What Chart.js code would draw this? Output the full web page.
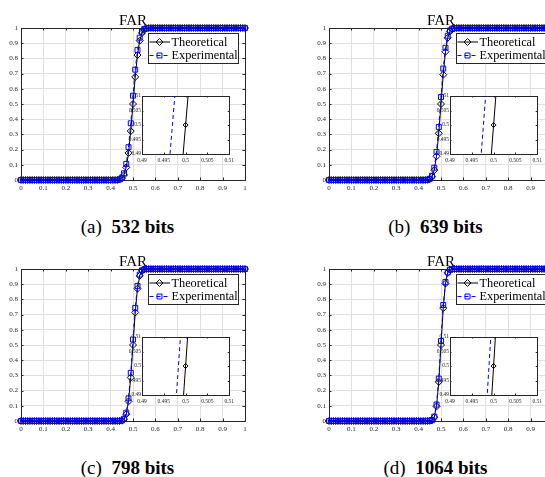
<!DOCTYPE html>
<html>
<head>
<meta charset="utf-8">
<script src="https://cdn.jsdelivr.net/npm/chart.js@4.4.1/dist/chart.umd.min.js"></script>
<style>
  html, body { margin: 0; padding: 0; background: #fff; width: 545px; height: 477px; overflow: hidden; position: relative; }
  canvas { position: absolute; }
  .cap { position: absolute; width: 255px; text-align: center; font-family: "Liberation Serif", "Times New Roman", serif;
         font-size: 19px; line-height: 22px; color: #000; white-space: pre; }
</style>
</head>
<body>
<script>
// FAR curves: theoretical vs experimental, four key lengths
const SERIF = '"Liberation Serif", "Times New Roman", serif';
const AXIS = "#262626";
const GRID = "#e0e0e0";

const xs = [
  0, 0.01, 0.02, 0.03, 0.04, 0.05, 0.06, 0.07, 0.08, 0.09,
  0.1, 0.11, 0.12, 0.13, 0.14, 0.15, 0.16, 0.17, 0.18, 0.19,
  0.2, 0.21, 0.22, 0.23, 0.24, 0.25, 0.26, 0.27, 0.28, 0.29,
  0.3, 0.31, 0.32, 0.33, 0.34, 0.35, 0.36, 0.37, 0.38, 0.39,
  0.4, 0.41, 0.42, 0.43, 0.44, 0.45, 0.46, 0.47, 0.48, 0.49,
  0.5, 0.51, 0.52, 0.53, 0.54, 0.55, 0.56, 0.57, 0.58, 0.59,
  0.6, 0.61, 0.62, 0.63, 0.64, 0.65, 0.66, 0.67, 0.68, 0.69,
  0.7, 0.71, 0.72, 0.73, 0.74, 0.75, 0.76, 0.77, 0.78, 0.79,
  0.8, 0.81, 0.82, 0.83, 0.84, 0.85, 0.86, 0.87, 0.88, 0.89,
  0.9, 0.91, 0.92, 0.93, 0.94, 0.95, 0.96, 0.97, 0.98, 0.99,
  1
];

const mainTicks = [0, 0.1, 0.2, 0.3, 0.4, 0.5, 0.6, 0.7, 0.8, 0.9, 1];
const mainTickLabels = ["0", "0.1", "0.2", "0.3", "0.4", "0.5", "0.6", "0.7", "0.8", "0.9", "1"];
const insetTicks = [0.49, 0.495, 0.5, 0.505, 0.51];
const insetTickLabels = ["0.49", "0.495", "0.5", "0.505", "0.51"];

const titleText = "FAR";
const seriesNames = ["Theoretical", "Experimental"];
const panelLabels = ["(a)", "(b)", "(c)", "(d)"];
const panelBits = ["532 bits", "639 bits", "798 bits", "1064 bits"];

const theo532 = [
  0, 0, 0, 0, 0, 0, 0, 0, 0, 0,
  0, 0, 0, 0, 0, 0, 0, 0, 0, 0,
  0, 0, 0, 0, 0, 0, 0, 0, 0, 0,
  0, 0, 0, 0, 0, 0, 0, 0, 0, 0,
  0, 0, 0, 0, 0.003, 0.010, 0.033, 0.083, 0.178, 0.322,
  0.5, 0.678, 0.822, 0.917, 0.967, 0.990, 0.997, 1, 1, 1,
  1, 1, 1, 1, 1, 1, 1, 1, 1, 1,
  1, 1, 1, 1, 1, 1, 1, 1, 1, 1,
  1, 1, 1, 1, 1, 1, 1, 1, 1, 1,
  1, 1, 1, 1, 1, 1, 1, 1, 1, 1,
  1
];
const exp532 = [
  0, 0, 0, 0, 0, 0, 0, 0, 0, 0,
  0, 0, 0, 0, 0, 0, 0, 0, 0, 0,
  0, 0, 0, 0, 0, 0, 0, 0, 0, 0,
  0, 0, 0, 0, 0, 0, 0, 0, 0, 0,
  0, 0, 0, 0, 0.004, 0.015, 0.044, 0.106, 0.216, 0.373,
  0.555, 0.726, 0.855, 0.936, 0.976, 0.993, 0.998, 1, 1, 1,
  1, 1, 1, 1, 1, 1, 1, 1, 1, 1,
  1, 1, 1, 1, 1, 1, 1, 1, 1, 1,
  1, 1, 1, 1, 1, 1, 1, 1, 1, 1,
  1, 1, 1, 1, 1, 1, 1, 1, 1, 1,
  1
];
const theo639 = [
  0, 0, 0, 0, 0, 0, 0, 0, 0, 0,
  0, 0, 0, 0, 0, 0, 0, 0, 0, 0,
  0, 0, 0, 0, 0, 0, 0, 0, 0, 0,
  0, 0, 0, 0, 0, 0, 0, 0, 0, 0,
  0, 0, 0, 0, 0.001, 0.006, 0.022, 0.065, 0.156, 0.307,
  0.5, 0.693, 0.844, 0.935, 0.978, 0.994, 0.999, 1, 1, 1,
  1, 1, 1, 1, 1, 1, 1, 1, 1, 1,
  1, 1, 1, 1, 1, 1, 1, 1, 1, 1,
  1, 1, 1, 1, 1, 1, 1, 1, 1, 1,
  1, 1, 1, 1, 1, 1, 1, 1, 1, 1,
  1
];
const exp639 = [
  0, 0, 0, 0, 0, 0, 0, 0, 0, 0,
  0, 0, 0, 0, 0, 0, 0, 0, 0, 0,
  0, 0, 0, 0, 0, 0, 0, 0, 0, 0,
  0, 0, 0, 0, 0, 0, 0, 0, 0, 0,
  0, 0, 0, 0, 0.002, 0.008, 0.028, 0.081, 0.185, 0.349,
  0.546, 0.733, 0.870, 0.949, 0.984, 0.996, 0.999, 1, 1, 1,
  1, 1, 1, 1, 1, 1, 1, 1, 1, 1,
  1, 1, 1, 1, 1, 1, 1, 1, 1, 1,
  1, 1, 1, 1, 1, 1, 1, 1, 1, 1,
  1, 1, 1, 1, 1, 1, 1, 1, 1, 1,
  1
];
const theo798 = [
  0, 0, 0, 0, 0, 0, 0, 0, 0, 0,
  0, 0, 0, 0, 0, 0, 0, 0, 0, 0,
  0, 0, 0, 0, 0, 0, 0, 0, 0, 0,
  0, 0, 0, 0, 0, 0, 0, 0, 0, 0,
  0, 0, 0, 0, 0, 0.002, 0.012, 0.045, 0.129, 0.286,
  0.5, 0.714, 0.871, 0.955, 0.988, 0.998, 1, 1, 1, 1,
  1, 1, 1, 1, 1, 1, 1, 1, 1, 1,
  1, 1, 1, 1, 1, 1, 1, 1, 1, 1,
  1, 1, 1, 1, 1, 1, 1, 1, 1, 1,
  1, 1, 1, 1, 1, 1, 1, 1, 1, 1,
  1
];
const exp798 = [
  0, 0, 0, 0, 0, 0, 0, 0, 0, 0,
  0, 0, 0, 0, 0, 0, 0, 0, 0, 0,
  0, 0, 0, 0, 0, 0, 0, 0, 0, 0,
  0, 0, 0, 0, 0, 0, 0, 0, 0, 0,
  0, 0, 0, 0, 0.001, 0.003, 0.015, 0.055, 0.149, 0.317,
  0.536, 0.744, 0.889, 0.963, 0.991, 0.998, 1, 1, 1, 1,
  1, 1, 1, 1, 1, 1, 1, 1, 1, 1,
  1, 1, 1, 1, 1, 1, 1, 1, 1, 1,
  1, 1, 1, 1, 1, 1, 1, 1, 1, 1,
  1, 1, 1, 1, 1, 1, 1, 1, 1, 1,
  1
];
const theo1064 = [
  0, 0, 0, 0, 0, 0, 0, 0, 0, 0,
  0, 0, 0, 0, 0, 0, 0, 0, 0, 0,
  0, 0, 0, 0, 0, 0, 0, 0, 0, 0,
  0, 0, 0, 0, 0, 0, 0, 0, 0, 0,
  0, 0, 0, 0, 0, 0.001, 0.005, 0.025, 0.096, 0.257,
  0.5, 0.743, 0.904, 0.975, 0.996, 0.999, 1, 1, 1, 1,
  1, 1, 1, 1, 1, 1, 1, 1, 1, 1,
  1, 1, 1, 1, 1, 1, 1, 1, 1, 1,
  1, 1, 1, 1, 1, 1, 1, 1, 1, 1,
  1, 1, 1, 1, 1, 1, 1, 1, 1, 1,
  1
];
const exp1064 = [
  0, 0, 0, 0, 0, 0, 0, 0, 0, 0,
  0, 0, 0, 0, 0, 0, 0, 0, 0, 0,
  0, 0, 0, 0, 0, 0, 0, 0, 0, 0,
  0, 0, 0, 0, 0, 0, 0, 0, 0, 0,
  0, 0, 0, 0, 0, 0.001, 0.006, 0.029, 0.108, 0.279,
  0.526, 0.763, 0.915, 0.978, 0.996, 0.9995, 1, 1, 1, 1,
  1, 1, 1, 1, 1, 1, 1, 1, 1, 1,
  1, 1, 1, 1, 1, 1, 1, 1, 1, 1,
  1, 1, 1, 1, 1, 1, 1, 1, 1, 1,
  1, 1, 1, 1, 1, 1, 1, 1, 1, 1,
  1
];

// styles (kept apart from the values)
const styles = [
  { color: "#000000", dash: [], mark: "rectRot" },
  { color: "#0000ff", dash: [4, 3], mark: "rect" }
];

const pts = (ys) => xs.map((x, i) => ({ x, y: ys[i] }));

function drawMark(ctx, style, x, y, r) {
  ctx.beginPath();
  if (style === "rectRot") {
    ctx.moveTo(x, y - r); ctx.lineTo(x + r, y); ctx.lineTo(x, y + r); ctx.lineTo(x - r, y); ctx.closePath();
  } else {
    const h = r * Math.SQRT1_2;
    ctx.rect(x - h, y - h, 2 * h, 2 * h);
  }
  ctx.stroke();
}

// box + inward ticks, matlab style
function framePlugin(tickLen, whiteBg) {
  return {
    id: "frame",
    beforeDraw(ch) {
      if (!whiteBg) return;
      const a = ch.chartArea;
      ch.ctx.save();
      ch.ctx.fillStyle = "#fff";
      ch.ctx.fillRect(a.left, a.top, a.width, a.height);
      ch.ctx.restore();
    },
    beforeDatasetsDraw(ch) {
      const { ctx, chartArea: a, scales: { x, y } } = ch;
      ctx.save();
      ctx.strokeStyle = AXIS;
      ctx.lineWidth = 1;
      ctx.beginPath();
      x.ticks.forEach(t => {
        const p = Math.round(x.getPixelForValue(t.value)) + 0.5;
        ctx.moveTo(p, a.bottom); ctx.lineTo(p, a.bottom - tickLen);
        ctx.moveTo(p, a.top); ctx.lineTo(p, a.top + tickLen);
      });
      y.ticks.forEach(t => {
        const p = Math.round(y.getPixelForValue(t.value)) + 0.5;
        ctx.moveTo(a.left, p); ctx.lineTo(a.left + tickLen, p);
        ctx.moveTo(a.right, p); ctx.lineTo(a.right - tickLen, p);
      });
      ctx.stroke();
      ctx.strokeRect(Math.round(a.left) + 0.5, Math.round(a.top) + 0.5, Math.round(a.width), Math.round(a.height));
      ctx.restore();
    }
  };
}

const titlePlugin = {
  id: "farTitle",
  afterDraw(ch) {
    const { ctx, chartArea: a } = ch;
    ctx.save();
    ctx.fillStyle = "#000";
    ctx.font = `15px ${SERIF}`;
    ctx.textAlign = "center";
    ctx.textBaseline = "alphabetic";
    ctx.fillText(titleText, (a.left + a.right) / 2, a.top - 3);
    ctx.restore();
  }
};

const legendPlugin = {
  id: "boxLegend",
  afterDatasetsDraw(ch) {
    const { ctx, chartArea: a } = ch;
    const l = a.left + 127, t = a.top + 5, w = 90, h = 30;
    ctx.save();
    ctx.fillStyle = "#fff";
    ctx.fillRect(l, t, w, h);
    ctx.strokeStyle = AXIS;
    ctx.lineWidth = 1;
    ctx.strokeRect(l + 0.5, t + 0.5, w, h);
    ctx.font = `12.3px ${SERIF}`;
    ctx.textBaseline = "middle";
    seriesNames.forEach((name, i) => {
      const s = styles[i];
      const yy = t + 9 + i * 13.5;
      ctx.strokeStyle = s.color;
      ctx.setLineDash(s.dash);
      ctx.beginPath();
      ctx.moveTo(l + 1.5, yy); ctx.lineTo(l + 22, yy);
      ctx.stroke();
      ctx.setLineDash([]);
      drawMark(ctx, s.mark, l + 11.5, yy, 3.5);
      ctx.fillStyle = "#000";
      ctx.fillText(name, l + 23.5, yy + 0.5);
    });
    ctx.restore();
  }
};

function makeCanvas(left, top, w, h) {
  const c = document.createElement("canvas");
  c.width = w; c.height = h;
  c.style.left = left + "px"; c.style.top = top + "px";
  document.body.appendChild(c);
  return c;
}

function axisCfg(ticks, labels, fit, fontSize, pad, grid) {
  return {
    type: "linear",
    min: ticks[0],
    max: ticks[ticks.length - 1],
    afterBuildTicks: s => { s.ticks = ticks.map(v => ({ value: v })); },
    afterFit: fit,
    border: { display: false },
    grid: grid ? { color: GRID, lineWidth: 1, drawTicks: false } : { display: false, drawTicks: false },
    ticks: {
      autoSkip: false, maxRotation: 0, minRotation: 0, padding: pad, color: AXIS,
      font: { family: SERIF, size: fontSize },
      callback: (v, i) => labels[i]
    }
  };
}

function datasets(theo, exp, r, inset) {
  const ys = [theo, exp];
  return ys.map((d, i) => ({
    label: seriesNames[i],
    data: pts(d),
    borderColor: styles[i].color,
    borderDash: styles[i].dash,
    borderWidth: 1,
    tension: 0,
    pointStyle: styles[i].mark,
    pointRadius: r,
    pointBorderWidth: 1,
    pointBorderColor: styles[i].color,
    pointBackgroundColor: "rgba(0,0,0,0)",
    order: i === 1 ? 0 : 1,
    clip: inset ? 0 : false
  }));
}

function panel(k, ox, oy, theo, exp) {
  // main plot
  new Chart(makeCanvas(ox, oy, 260, 200), {
    type: "line",
    data: { datasets: datasets(theo, exp, 3.5, false) },
    options: {
      responsive: false, animation: false, events: [], devicePixelRatio: 1,
      layout: { padding: { top: 28, right: 15, bottom: 0, left: 0 } },
      plugins: { legend: { display: false }, tooltip: { enabled: false }, title: { display: false } },
      scales: {
        x: axisCfg(mainTicks, mainTickLabels, s => { s.height = 20; }, 7, 4, true),
        y: axisCfg(mainTicks, mainTickLabels, s => { s.width = 21; }, 7, 3, true)
      }
    },
    plugins: [framePlugin(2.5, false), titlePlugin, legendPlugin]
  });

  // zoomed inset around (0.5, 0.5)
  new Chart(makeCanvas(ox + 122, oy + 90, 115, 80), {
    type: "line",
    data: { datasets: datasets(theo, exp, 2.5, true) },
    options: {
      responsive: false, animation: false, events: [], devicePixelRatio: 1,
      layout: { padding: { top: 6, right: 5, bottom: 0, left: 0 } },
      plugins: { legend: { display: false }, tooltip: { enabled: false }, title: { display: false } },
      scales: {
        x: axisCfg(insetTicks, insetTickLabels, s => { s.height = 16; }, 5.5, 3, false),
        y: axisCfg(insetTicks, insetTickLabels, s => { s.width = 20; }, 5.5, 1, false)
      }
    },
    plugins: [framePlugin(1.5, true)]
  });

  // caption
  const cap = document.createElement("div");
  cap.className = "cap";
  cap.style.left = ox + "px";
  cap.style.top = (oy + 215.5) + "px";
  cap.innerHTML = `${panelLabels[k]}  <b>${panelBits[k]}</b>`;
  document.body.appendChild(cap);
}

panel(0, 0, 0, theo532, exp532);
panel(1, 308, 0, theo639, exp639);
panel(2, 0, 241, theo798, exp798);
panel(3, 308, 241, theo1064, exp1064);
</script>
</body>
</html>
